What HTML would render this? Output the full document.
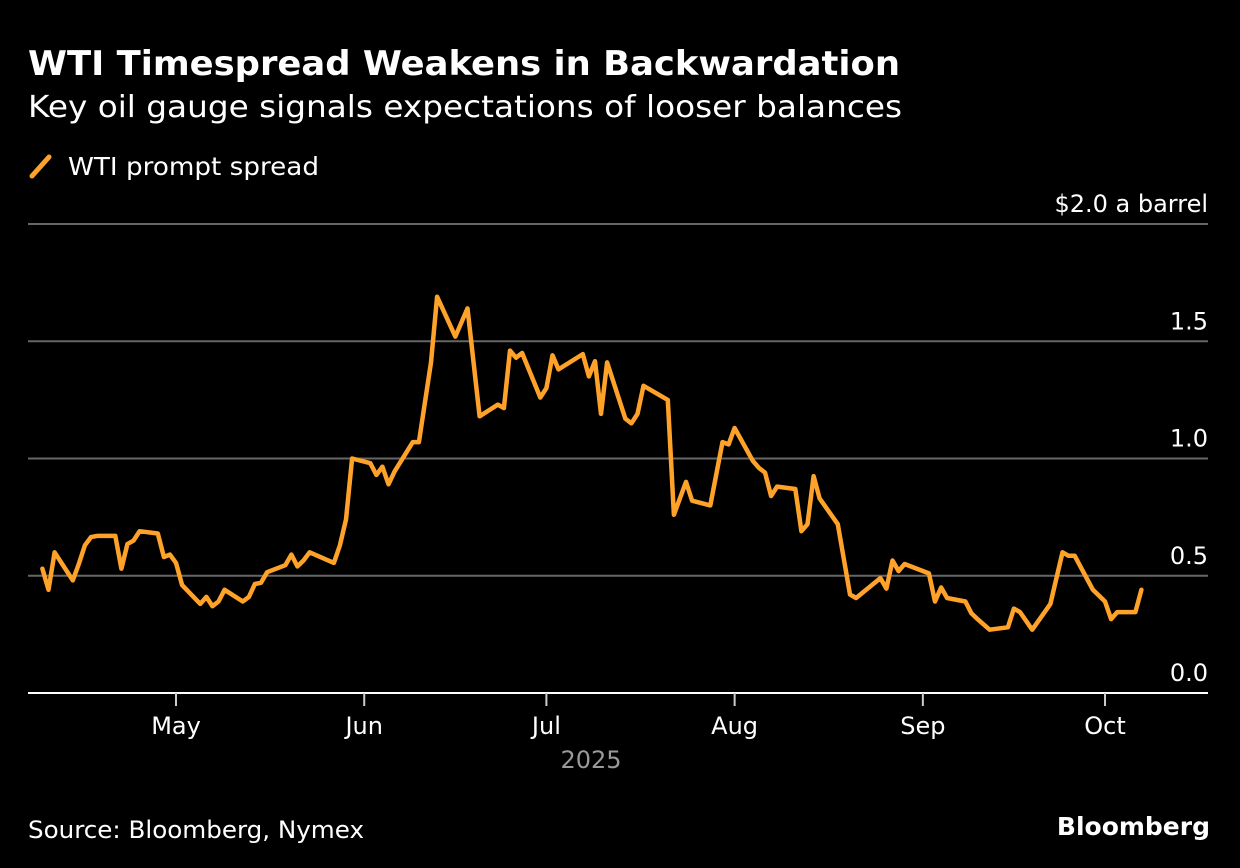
<!DOCTYPE html>
<html><head><meta charset="utf-8"><style>
html,body{margin:0;padding:0;background:#000;}
svg{display:block;font-family:"DejaVu Sans","Liberation Sans",sans-serif;}
</style></head><body>
<svg id="chart" width="1240" height="868" viewBox="0 0 1240 868" xmlns="http://www.w3.org/2000/svg">
<rect width="1240" height="868" fill="#000"/>
<text x="28" y="75" fill="#fff" font-weight="bold" font-size="34" textLength="872" lengthAdjust="spacingAndGlyphs">WTI Timespread Weakens in Backwardation</text>
<text x="28" y="117" fill="#fff" font-size="30" textLength="874" lengthAdjust="spacingAndGlyphs">Key oil gauge signals expectations of looser balances</text>
<g>
<line x1="32" y1="176" x2="49" y2="157" stroke="#ffa22a" stroke-width="5" stroke-linecap="round"/>
<text x="68" y="175" fill="#fff" font-size="25" textLength="251" lengthAdjust="spacingAndGlyphs">WTI prompt spread</text>
</g>
<g id="grid"></g>
<g id="yticks"></g>
<g id="xaxis"></g>
<path id="line" fill="none" stroke="#ffa22a" stroke-width="4.5" stroke-linejoin="round" stroke-linecap="round"/>
<text x="591" y="768" fill="#999" font-size="24" text-anchor="middle">2025</text>
<text x="28" y="838" fill="#fff" font-size="24" textLength="336" lengthAdjust="spacingAndGlyphs">Source: Bloomberg, Nymex</text>
<text x="1210" y="835" fill="#fff" font-size="25" font-weight="bold" text-anchor="end">Bloomberg</text>
</svg>
<script>
// days since 2025-04-01
const days = [8,9,10,13,14,15,16,17,20,21,22,23,24,27,28,29,30,31,34,35,36,37,38,41,42,43,44,45,48,49,50,51,52,56,57,58,59,62,63,64,65,66,69,70,72,73,76,78,80,83,84,85,86,87,90,91,92,93,97,98,99,100,101,104,105,106,107,111,112,114,115,118,120,121,122,125,126,127,128,129,132,133,134,135,136,139,141,142,146,147,148,149,150,154,155,156,157,160,161,162,164,167,168,169,171,174,176,177,178,181,183,184,185,188,189];
const values = [0.53,0.44,0.60,0.48,0.55,0.63,0.665,0.67,0.67,0.53,0.635,0.65,0.69,0.68,0.58,0.59,0.555,0.46,0.38,0.41,0.37,0.39,0.44,0.39,0.41,0.465,0.47,0.515,0.545,0.59,0.54,0.565,0.60,0.555,0.63,0.74,1.0,0.98,0.93,0.965,0.89,0.945,1.07,1.07,1.41,1.69,1.52,1.64,1.18,1.23,1.215,1.46,1.43,1.45,1.26,1.30,1.44,1.38,1.445,1.35,1.415,1.19,1.41,1.17,1.15,1.19,1.31,1.25,0.76,0.90,0.82,0.80,1.07,1.06,1.13,0.99,0.96,0.94,0.84,0.88,0.87,0.69,0.72,0.925,0.83,0.72,0.42,0.405,0.49,0.445,0.565,0.52,0.55,0.51,0.39,0.45,0.405,0.39,0.34,0.315,0.27,0.28,0.36,0.345,0.27,0.38,0.60,0.585,0.585,0.44,0.39,0.315,0.345,0.345,0.44];
const yTicks = [0,0.5,1.0,1.5,2.0];
const yTickLabels = ["0.0","0.5","1.0","1.5","$2.0 a barrel"];
const monthDays = [30,61,91,122,153,183];
const monthLabels = ["May","Jun","Jul","Aug","Sep","Oct"];

const NS = "http://www.w3.org/2000/svg";
const xS = d => 176 + (d - 30) * 6.072;
const yS = v => 693 - v * 234.5;
const grid = document.getElementById('grid');
const yt = document.getElementById('yticks');
const xa = document.getElementById('xaxis');
yTicks.forEach((t, i) => {
  if (t !== 0) {
    const l = document.createElementNS(NS, 'line');
    
    
    l.setAttribute('x1', 28); l.setAttribute('x2', 1208);
    l.setAttribute('y1', yS(t)); l.setAttribute('y2', yS(t));
    l.setAttribute('stroke', '#666'); l.setAttribute('stroke-width', '2');
    grid.appendChild(l);
  }
  const tx = document.createElementNS(NS, 'text');
  
  
  tx.setAttribute('x', 1208); tx.setAttribute('y', yS(t) - 12);
  tx.setAttribute('fill', '#fff'); tx.setAttribute('font-size', '24');
  tx.setAttribute('text-anchor', 'end');
  tx.textContent = yTickLabels[i];
  yt.appendChild(tx);
});
const base = document.createElementNS(NS, 'line');


base.setAttribute('x1', 28); base.setAttribute('x2', 1208);
base.setAttribute('y1', yS(0)); base.setAttribute('y2', yS(0));
base.setAttribute('stroke', '#fff'); base.setAttribute('stroke-width', '2');
xa.appendChild(base);
monthDays.forEach((d, i) => {
  const tk = document.createElementNS(NS, 'line');
  
  
  tk.setAttribute('x1', xS(d)); tk.setAttribute('x2', xS(d));
  tk.setAttribute('y1', 693); tk.setAttribute('y2', 706);
  tk.setAttribute('stroke', '#ccc'); tk.setAttribute('stroke-width', '2');
  xa.appendChild(tk);
  const tx = document.createElementNS(NS, 'text');
  
  
  tx.setAttribute('x', xS(d)); tx.setAttribute('y', 734);
  tx.setAttribute('fill', '#fff'); tx.setAttribute('font-size', '24');
  tx.setAttribute('text-anchor', 'middle');
  tx.textContent = monthLabels[i];
  xa.appendChild(tx);
});
let dstr = '';
days.forEach((d, i) => { dstr += (i ? 'L' : 'M') + xS(d).toFixed(1) + ',' + yS(values[i]).toFixed(1); });
document.getElementById('line').setAttribute('d', dstr);
</script>
</body></html>
